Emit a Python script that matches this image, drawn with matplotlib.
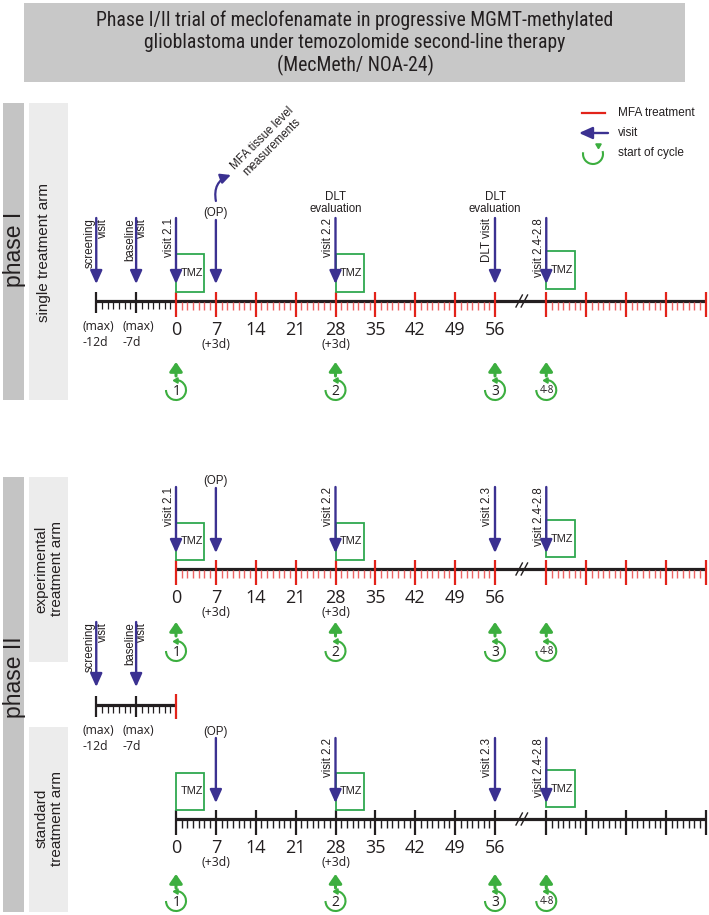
import math
import matplotlib
matplotlib.use('Agg')
import matplotlib.pyplot as plt
from matplotlib.patches import Rectangle, Arc, FancyArrowPatch
from matplotlib import font_manager

# ---------------- data ----------------
title_lines = ['Phase I/II trial of meclofenamate in progressive MGMT-methylated',
               'glioblastoma under temozolomide second-line therapy',
               '(MecMeth/ NOA-24)']
main_days = [0, 7, 14, 21, 28, 35, 42, 49, 56]
main_labels = ['0', '7', '14', '21', '28', '35', '42', '49', '56']
plus3_days = [7, 28]
plus3_label = '(+3d)'
pre_days = [-14, -7]            # schematic positions of screening / baseline
pre_labels_top = ['(max)', '(max)']
pre_labels_bottom = ['-12d', '-7d']
break_pos = 60.7
post_days = [65, 72, 79, 86, 93]
tmz_days = [0, 28, 65]
tmz_len = 5
cycle_days = [0, 28, 56, 65]
cycle_labels = ['1', '2', '3', '4-8']
op_day = 7
dlt_days = [28, 56]
dlt_label = 'DLT\nevaluation'
mfa_tissue_label = 'MFA tissue level\nmeasurements'

phase1_visits = [-14, -7, 0, 28, 56, 65]
phase1_visit_labels = ['screening\nvisit', 'baseline\nvisit', 'visit 2.1',
                       'visit 2.2', 'DLT visit', 'visit 2.4-2.8']
exp_visits = [0, 28, 56, 65]
exp_visit_labels = ['visit 2.1', 'visit 2.2', 'visit 2.3', 'visit 2.4-2.8']
screen2_visits = [-14, -7]
screen2_visit_labels = ['screening\nvisit', 'baseline\nvisit']
std_visits = [28, 56, 65]
std_visit_labels = ['visit 2.2', 'visit 2.3', 'visit 2.4-2.8']
legend_labels = ['MFA treatment', 'visit', 'start of cycle']

pre_minor = [d for d in range(pre_days[0] + 1, 0) if d not in pre_days]
main_minor = [d for d in range(1, main_days[-1]) if d % 7]
post_minor = [d for d in range(post_days[0] + 1, post_days[-1]) if d not in post_days]

# ---------------- style ----------------
W, H = 709, 915
X0 = 176.0
PX = 319.0 / 56.0
BLACK = '#231f20'
RED = '#e2231a'
RED_L = '#ee6464'
BLUE = '#3b3191'
GREEN = '#2fa84f'
GREEN_A = '#3cae3f'
GRAY_D = '#c4c4c4'
GRAY_L = '#ececec'
GRAY_T = '#c8c8c8'

names = {f.name for f in font_manager.fontManager.ttflist}
TITLE_FONT = next((n for n in ['Liberation Sans Narrow', 'Roboto Condensed',
                               'Open Sans Condensed'] if n in names), None)
SANS = 'Liberation Sans'
NUMF = 'Open Sans'


def px2d(p):
    return (p - X0) / PX


def wd(p):
    return p / PX


fig = plt.figure(figsize=(W / 100, H / 100), dpi=100)
ax = fig.add_axes([0, 0, 1, 1])
ax.set_xlim(px2d(0), px2d(W))
ax.set_ylim(H, 0)
ax.axis('off')

ARROW = dict(arrowstyle='-|>,head_length=0.8,head_width=0.36', color=BLUE,
             lw=1.7, shrinkA=0, shrinkB=0, mutation_scale=10)
GARROW = dict(arrowstyle='-|>,head_length=0.55,head_width=0.38', color=GREEN_A,
              lw=2.2, shrinkA=0, shrinkB=0, mutation_scale=10)

# ---------------- title ----------------
ax.add_patch(Rectangle((px2d(24), 3), wd(661), 79, facecolor=GRAY_T,
                       edgecolor='none', zorder=0))
if TITLE_FONT:
    tf, ts = TITLE_FONT, 14.2
else:
    tf, ts = SANS, 11.8
for i, t in enumerate(title_lines):
    ax.text(px2d(355), 20 + 22.5 * i, t, ha='center', va='center',
            fontsize=ts, family=tf, color=BLACK)

# ---------------- side bands ----------------
bands = [(3, 103, 21, 297, GRAY_D), (29, 103, 39, 297, GRAY_L),
         (3, 477, 21, 435, GRAY_D), (29, 477, 39, 185, GRAY_L),
         (29, 727, 39, 185, GRAY_L)]
for x, y, w, h, c in bands:
    ax.add_patch(Rectangle((px2d(x), y), wd(w), h, facecolor=c,
                           edgecolor='none', zorder=0))
ax.text(px2d(15), 249, 'phase I', rotation=90, ha='center', va='center',
        fontsize=16.5, family=SANS, color=BLACK)
ax.text(px2d(15), 677, 'phase II', rotation=90, ha='center', va='center',
        fontsize=16.5, family=SANS, color=BLACK)
ax.text(px2d(44), 253, 'single treatment arm', rotation=90, ha='center',
        va='center', fontsize=11, family=SANS, color=BLACK)
ax.text(px2d(49), 569, 'experimental\ntreatment arm', rotation=90, ha='center',
        va='center', fontsize=11, family=SANS, color=BLACK, linespacing=1.15)
ax.text(px2d(49), 818, 'standard\ntreatment arm', rotation=90, ha='center',
        va='center', fontsize=11, family=SANS, color=BLACK, linespacing=1.15)


# ---------------- helpers ----------------
def draw_timeline(y, pre, main, mfa):
    start = pre_days[0] if pre else 0
    end = post_days[-1] if main else 0
    ax.plot([start, end], [y, y], color=BLACK, lw=2.3, solid_capstyle='butt',
            zorder=2)
    if pre:
        ax.vlines(pre_days, y - 9, y + 12, color=BLACK, lw=1.6, zorder=3)
        ax.vlines(pre_minor, y, y + 8, color=BLACK, lw=0.9, zorder=3)
        for d, t1, t2 in zip(pre_days, pre_labels_top, pre_labels_bottom):
            ax.text(d - wd(14), y + 29, t1, ha='left', va='baseline',
                    fontsize=8.8, family=NUMF, color=BLACK)
            ax.text(d - wd(14), y + 44.5, t2, ha='left', va='baseline',
                    fontsize=8.8, family=NUMF, color=BLACK)
    mc = RED if mfa else BLACK
    nc = RED_L if mfa else BLACK
    if main:
        ax.vlines(main_days + post_days, y - 9, y + 16, color=mc, lw=1.6,
                  zorder=3)
        ax.vlines(main_minor + post_minor, y + 1, y + 9, color=nc, lw=1.0,
                  zorder=3)
        for d, t in zip(main_days, main_labels):
            ax.text(d, y + 34, t, ha='center', va='baseline', fontsize=13,
                    family=NUMF, color=BLACK)
        for d in plus3_days:
            ax.text(d, y + 47, plus3_label, ha='center', va='baseline',
                    fontsize=8.8, family=NUMF, color=BLACK)
        for off in (-wd(2.6), wd(2.6)):
            ax.plot([break_pos + off - wd(3.2), break_pos + off + wd(3.2)],
                    [y + 6, y - 6], color=BLACK, lw=1.0, zorder=4)
    else:
        ax.vlines([0], y - 11, y + 14, color=mc, lw=1.6, zorder=3)


def draw_visits(days, labels, top, tip):
    for d, t in zip(days, labels):
        ax.annotate('', xy=(d, tip), xytext=(d, top), arrowprops=ARROW,
                    zorder=5)
        if '\n' in t:
            ax.text(d, top, t, rotation=90, ha='center', va='top',
                    multialignment='right', fontsize=8.3, family=SANS,
                    color=BLACK, linespacing=1.05)
        else:
            ax.text(d - wd(1.5), top, t, rotation=90, ha='right', va='top',
                    fontsize=8.3, family=SANS, color=BLACK)


def draw_tmz(top, bottom, post_shift=0.0, days=tmz_days):
    for d in days:
        s = post_shift if d >= post_days[0] else 0.0
        ax.add_patch(Rectangle((d, top - s), tmz_len, bottom - top,
                               facecolor='none', edgecolor=GREEN, lw=1.3,
                               zorder=4))
        ax.text(d + 2.75, (top + bottom) / 2 - s, 'TMZ', ha='center',
                va='center', fontsize=7.8, family=SANS, color=BLACK, zorder=6)


def cycle_icon(x, yc, r=10.0, gap_from=90, gap_to=180, label=None, fs=10):
    # screen arc runs counter-clockwise from gap_to round to gap_from
    ax.add_patch(Arc((x, yc), wd(2 * r), 2 * r, theta1=-gap_from,
                     theta2=360 - gap_to, color=GREEN_A, lw=1.5, zorder=4))
    phi = math.radians(gap_from)
    ax.plot([x + wd(r * math.cos(phi))], [yc - r * math.sin(phi)],
            marker=(3, 0, gap_from), markersize=4.5, color=GREEN_A, zorder=5)
    if label is not None:
        if len(label) == 1:
            ax.text(x + wd(0.3), yc + 5, label, ha='center', va='baseline',
                    fontsize=fs, family=NUMF, color=BLACK, zorder=6)
        else:
            ax.text(x + wd(0.3), yc + 3.3, label, ha='center', va='baseline',
                    fontsize=7, family=NUMF, color=BLACK, zorder=6)


def draw_cycles(y_bottom, y_circle):
    for d, lab in zip(cycle_days, cycle_labels):
        ax.annotate('', xy=(d, y_bottom - 14), xytext=(d, y_bottom),
                    arrowprops=GARROW, zorder=5)
        cycle_icon(d, y_circle, label=lab)


def draw_op(top, tip, label_y):
    ax.annotate('', xy=(op_day, tip), xytext=(op_day, top), arrowprops=ARROW,
                zorder=5)
    ax.text(op_day, label_y, '(OP)', ha='center', va='center', fontsize=8.3,
            family=SANS, color=BLACK)


# ---------------- phase I ----------------
draw_timeline(301, pre=True, main=True, mfa=True)
draw_visits(phase1_visits, phase1_visit_labels, 218, 284)
draw_op(220, 284, 213)
arc_arrow = FancyArrowPatch((op_day, 201), (op_day + wd(15), 175),
                            connectionstyle='arc3,rad=-0.42',
                            arrowstyle='-|>,head_length=0.6,head_width=0.3',
                            mutation_scale=10, color=BLUE, lw=1.6,
                            shrinkA=0, shrinkB=0, zorder=5)
ax.add_patch(arc_arrow)
ax.text(px2d(229), 181, mfa_tissue_label, rotation=45, ha='left', va='bottom',
        multialignment='center', fontsize=8.3, family=SANS, color=BLACK,
        linespacing=1.05)
for d in dlt_days:
    ax.text(d, 203, dlt_label, ha='center', va='center', multialignment='center',
            fontsize=8.3, family=SANS, color=BLACK, linespacing=1.1)
draw_tmz(254, 292, post_shift=3)
draw_cycles(376, 390)

# legend
ax.plot([px2d(582), px2d(605)], [113, 113], color=RED, lw=1.6)
ax.annotate('', xy=(px2d(579), 133), xytext=(px2d(608), 133), arrowprops=ARROW)
cycle_icon(px2d(593), 154, r=10, gap_from=60, gap_to=135)
for yy, t in zip([113, 133, 153], legend_labels):
    ax.text(px2d(618), yy, t, ha='left', va='center', fontsize=8.5,
            family=SANS, color=BLACK)

# ---------------- phase II, experimental arm ----------------
draw_timeline(569, pre=False, main=True, mfa=True)
draw_visits(exp_visits, exp_visit_labels, 487, 553)
draw_op(488, 553, 481)
draw_tmz(523, 560, post_shift=3)
draw_cycles(636, 651)

# ---------------- phase II, screening ----------------
draw_timeline(705, pre=True, main=False, mfa=True)
draw_visits(screen2_visits, screen2_visit_labels, 622, 687)

# ---------------- phase II, standard arm ----------------
draw_timeline(819, pre=False, main=True, mfa=False)
draw_visits(std_visits, std_visit_labels, 738, 803)
draw_op(738, 803, 732)
draw_tmz(773, 810, post_shift=3)
draw_cycles(888, 901)

fig.savefig('out.png', dpi=100)
